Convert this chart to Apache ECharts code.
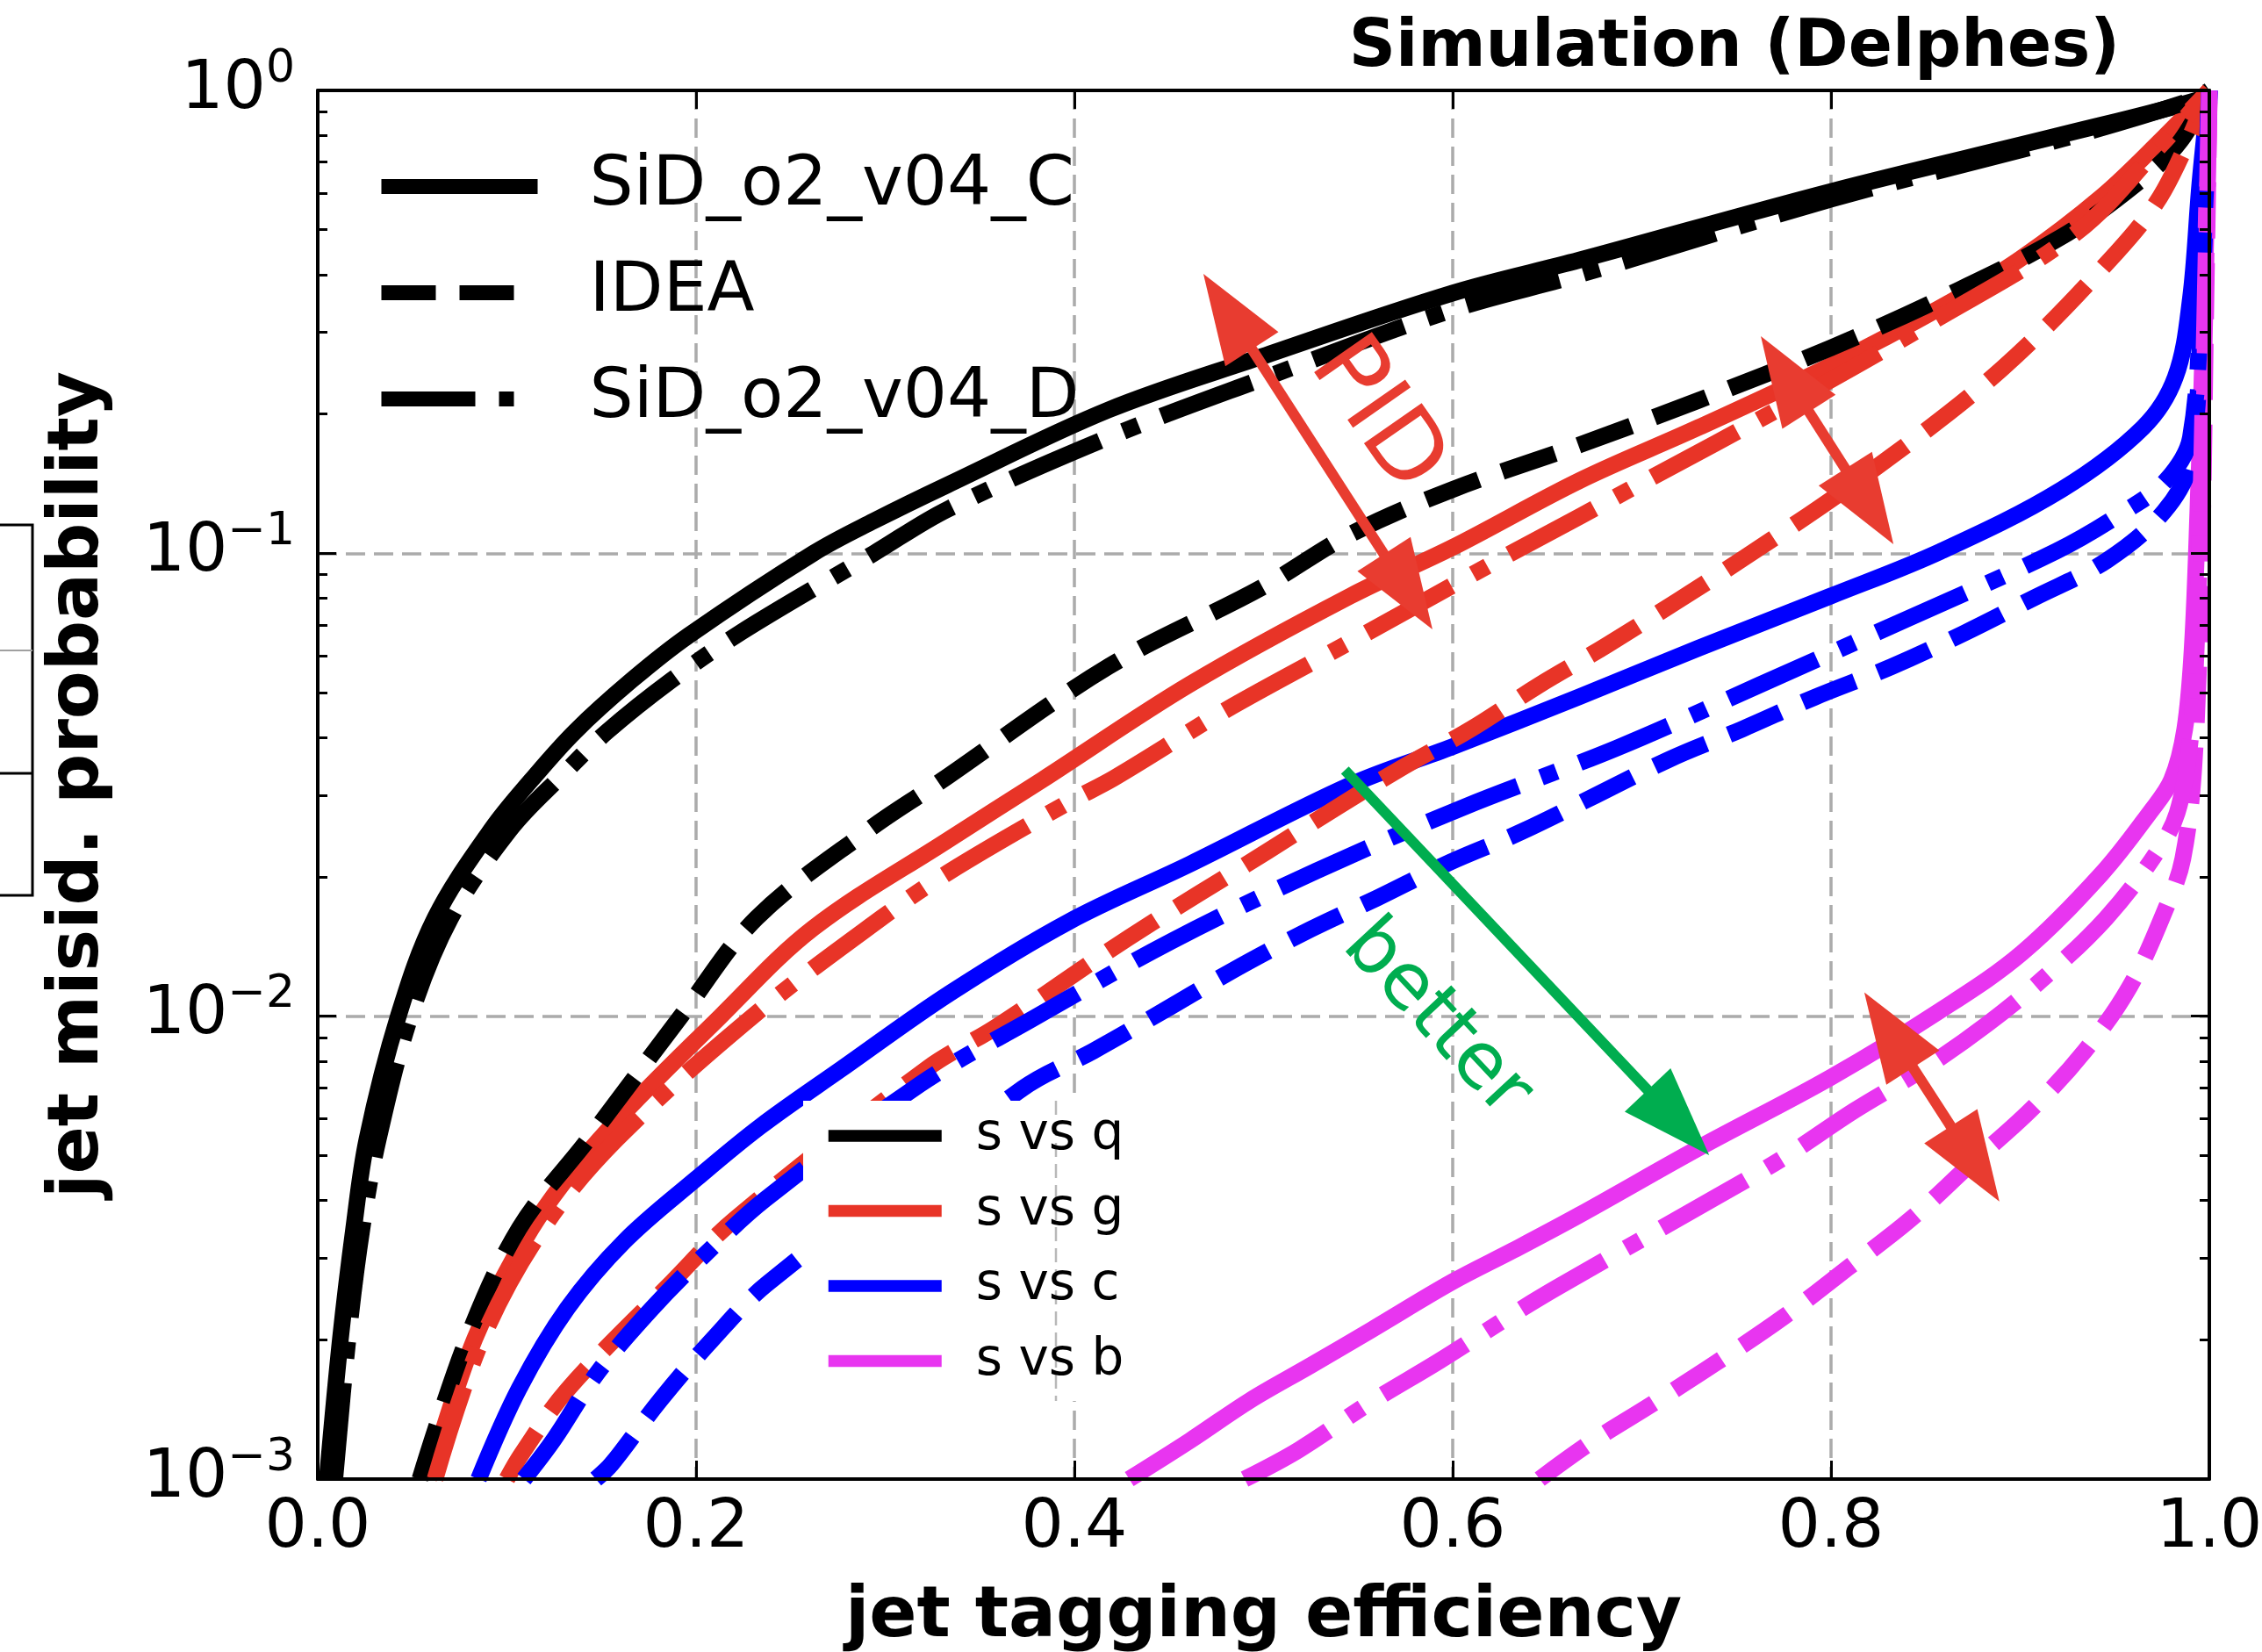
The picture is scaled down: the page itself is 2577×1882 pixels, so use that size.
<!DOCTYPE html>
<html>
<head>
<meta charset="utf-8">
<script src="https://cdn.jsdelivr.net/npm/echarts@6/dist/echarts.min.js"></script>
<style>html,body{margin:0;padding:0;background:#fff}#c{width:2577px;height:1882px}</style>
</head>
<body>
<div id="c"></div>
<script>
// ---------------- data (x = jet tagging efficiency, y = mis-id probability) ----------------
const xTicks = [0, 0.2, 0.4, 0.6, 0.8, 1.0];
const yTicks = [0.001, 0.01, 0.1, 1];

// SiD_o2_v04_C (solid)
const q_SiDC = [[0.005,0.001],[0.012,0.00201],[0.019,0.00348],[0.026,0.00542],[0.0426,0.01],[0.062,0.0163],[0.092,0.0254],[0.113,0.0324],[0.136,0.0412],[0.166,0.0532],[0.196,0.0664],[0.262,0.1],[0.294,0.1175],[0.333,0.1406],[0.418,0.204],[0.499,0.266],[0.6,0.365],[0.667,0.43],[0.8,0.605],[0.922,0.802],[0.995,0.957],[1.0,1.0]];
const g_SiDC = [[0.0586,0.001],[0.083,0.00201],[0.113,0.00348],[0.149,0.00542],[0.213,0.01],[0.262,0.0155],[0.333,0.024],[0.383,0.0324],[0.461,0.0521],[0.546,0.0809],[0.6,0.103],[0.667,0.1435],[0.73,0.187],[0.8,0.2547],[0.858,0.3396],[0.9,0.4325],[0.943,0.589],[0.975,0.785],[1.0,1.0]];
const c_SiDC = [[0.085,0.001],[0.1065,0.00157],[0.132,0.00234],[0.162,0.00326],[0.2,0.00445],[0.234,0.00578],[0.277,0.0077],[0.334,0.0112],[0.397,0.016],[0.461,0.0213],[0.546,0.0316],[0.6,0.0382],[0.667,0.049],[0.73,0.0624],[0.8,0.0809],[0.858,0.101],[0.922,0.1374],[0.965,0.187],[0.982,0.24],[0.99,0.355],[0.995,0.63],[1.0,1.0]];
const b_SiDC = [[0.429,0.001],[0.461,0.00121],[0.493,0.00148],[0.525,0.00176],[0.557,0.0021],[0.6,0.00267],[0.632,0.00312],[0.667,0.00372],[0.73,0.00519],[0.8,0.00738],[0.858,0.0103],[0.901,0.0137],[0.943,0.0203],[0.969,0.0277],[0.98,0.0324],[0.987,0.0417],[0.991,0.063],[0.994,0.126],[0.997,0.316],[1.0,1.0]];

// IDEA (dashed)
const q_IDEA = [[0.054,0.001],[0.079,0.00201],[0.1065,0.00348],[0.143,0.00542],[0.192,0.01],[0.232,0.0163],[0.292,0.0254],[0.326,0.0315],[0.418,0.0569],[0.499,0.0843],[0.546,0.11],[0.6,0.1374],[0.667,0.1714],[0.73,0.214],[0.8,0.278],[0.858,0.355],[0.922,0.483],[0.965,0.646],[0.985,0.78],[1.0,1.0]];
const g_IDEA = [[0.1,0.001],[0.1076,0.00113],[0.132,0.00156],[0.1875,0.00267],[0.2205,0.00364],[0.322,0.0077],[0.359,0.0095],[0.429,0.0148],[0.502,0.0227],[0.539,0.0283],[0.572,0.0342],[0.61,0.0418],[0.646,0.052],[0.682,0.0635],[0.754,0.0977],[0.824,0.1535],[0.891,0.2518],[0.951,0.4467],[0.976,0.608],[1.0,1.0]];
const c_IDEA = [[0.147,0.001],[0.1555,0.00108],[0.181,0.00148],[0.209,0.00201],[0.2375,0.00264],[0.3726,0.00698],[0.41,0.00841],[0.447,0.01026],[0.4834,0.01253],[0.5207,0.0151],[0.56,0.018],[0.5985,0.0215],[0.637,0.0251],[0.714,0.0358],[0.753,0.0417],[0.791,0.0488],[0.832,0.0569],[0.87,0.0671],[0.907,0.08],[0.946,0.0966],[0.976,0.123],[0.99,0.158],[0.996,0.35],[1.0,1.0]];
const b_IDEA = [[0.646,0.001],[0.673,0.0012],[0.704,0.00144],[0.739,0.00178],[0.775,0.00224],[0.809,0.00286],[0.842,0.00364],[0.874,0.0048],[0.906,0.0063],[0.934,0.0084],[0.958,0.0116],[0.977,0.0171],[0.986,0.0219],[0.992,0.0355],[0.996,0.1],[0.998,0.316],[1.0,1.0]];

// SiD_o2_v04_D (dash-dot)
const q_SiDD = [[0.009,0.001],[0.016,0.00201],[0.0234,0.00348],[0.032,0.00542],[0.049,0.01],[0.0703,0.0163],[0.102,0.0254],[0.129,0.0331],[0.153,0.0412],[0.187,0.0532],[0.224,0.0676],[0.294,0.1],[0.333,0.1245],[0.418,0.178],[0.499,0.238],[0.6,0.336],[0.667,0.4],[0.8,0.582],[0.922,0.785],[0.99,0.95],[1.0,1.0]];
const g_SiDD = [[0.062,0.001],[0.087,0.00201],[0.119,0.00348],[0.158,0.00542],[0.23,0.01],[0.298,0.0163],[0.333,0.0204],[0.397,0.029],[0.421,0.0327],[0.479,0.0456],[0.554,0.0671],[0.628,0.0986],[0.667,0.12],[0.702,0.1435],[0.776,0.209],[0.852,0.314],[0.93,0.494],[0.975,0.767],[1.0,1.0]];
const c_SiDD = [[0.109,0.001],[0.125,0.00122],[0.148,0.0017],[0.176,0.00232],[0.2045,0.00305],[0.2365,0.00402],[0.3185,0.00713],[0.377,0.00982],[0.451,0.0145],[0.528,0.0206],[0.606,0.0283],[0.687,0.038],[0.762,0.0519],[0.841,0.0724],[0.919,0.101],[0.955,0.123],[0.977,0.1435],[0.99,0.178],[0.996,0.4],[1.0,1.0]];
const b_SiDD = [[0.49,0.001],[0.5186,0.001156],[0.556,0.00146],[0.593,0.0018],[0.628,0.00222],[0.655,0.00259],[0.739,0.00406],[0.775,0.00495],[0.8123,0.00625],[0.849,0.0077],[0.8827,0.00962],[0.914,0.01225],[0.9455,0.0163],[0.971,0.0222],[0.983,0.0275],[0.99,0.0398],[0.994,0.0794],[0.997,0.251],[1.0,1.0]];

const detectorNames = ['SiD_o2_v04_C', 'IDEA', 'SiD_o2_v04_D'];
const classNames = ['s vs q', 's vs g', 's vs c', 's vs b'];

// annotation anchors in data coordinates
const pidArrowBig = [[0.4682, 0.4016], [0.5893, 0.0685]];
const pidArrowMid = [[0.7629, 0.2944], [0.833, 0.1046]];
const pidArrowLow = [[0.8176, 0.01126], [0.889, 0.00398]];
const betterArrow = [[0.543, 0.034], [0.7356, 0.00501]];
const pidTextPos = [0.5592, 0.1979];
const betterTextPos = [0.5912, 0.00985];

// ---------------- styling ----------------
const FONT = '"DejaVu Sans", "Noto Sans", sans-serif';
const BLACK = '#000000', RED = '#E83427', BLUE = '#0000FF', MAGENTA = '#E835F0';
const ARROW_RED = '#E83C30', GREEN = '#00AD4F';
const LW = 19;
const DASHED = [64, 28];
const DASHDOT = [110, 28, 19, 28];
const LEG_DASHED = [62, 27];
const LEG_DASHDOT = [107, 27, 17, 27];

function mk(name, data, color, dash) {
  return {
    name: name, type: 'line', data: data, symbol: 'none', showSymbol: false,
    smooth: 0.35, silent: true, z: 2,
    lineStyle: { color: color, width: LW, type: dash, cap: 'butt', join: 'round' },
    itemStyle: { color: color }
  };
}
function legendDummy(name, color, width, dash) {
  return {
    name: name, type: 'line', data: [], symbol: 'none', showSymbol: false, silent: true,
    lineStyle: { color: color, width: width, type: dash }, itemStyle: { color: color }
  };
}

const series = [
  mk('q C', q_SiDC, BLACK, 'solid'), mk('g C', g_SiDC, RED, 'solid'),
  mk('c C', c_SiDC, BLUE, 'solid'), mk('b C', b_SiDC, MAGENTA, 'solid'),
  mk('q I', q_IDEA, BLACK, DASHED), mk('g I', g_IDEA, RED, DASHED),
  mk('c I', c_IDEA, BLUE, DASHED), mk('b I', b_IDEA, MAGENTA, DASHED),
  mk('q D', q_SiDD, BLACK, DASHDOT), mk('g D', g_SiDD, RED, DASHDOT),
  mk('c D', c_SiDD, BLUE, DASHDOT), mk('b D', b_SiDD, MAGENTA, DASHDOT),
  legendDummy(detectorNames[0], BLACK, 17, 'solid'),
  legendDummy(detectorNames[1], BLACK, 17, LEG_DASHED),
  legendDummy(detectorNames[2], BLACK, 17, LEG_DASHDOT),
  legendDummy(classNames[0], BLACK, 13.5, 'solid'),
  legendDummy(classNames[1], RED, 13.5, 'solid'),
  legendDummy(classNames[2], BLUE, 13.5, 'solid'),
  legendDummy(classNames[3], MAGENTA, 13.5, 'solid')
];

const tickStyle = { show: true, inside: true, length: 21, lineStyle: { color: '#000', width: 3 } };
const minorStyle = { show: true, splitNumber: 9, length: 11, lineStyle: { color: '#000', width: 3 } };
const frameLine = { show: true, onZero: false, lineStyle: { color: '#000', width: 4 } };
const gridLine = { show: true, lineStyle: { color: '#ababab', width: 3.5, type: [22, 10] } };

function supLabel(v) {
  const e = Math.round(Math.log10(v));
  const s = e < 0 ? '\u2212' + (-e) : String(e);
  return '{b|10}{s|' + s + '}';
}

const option = {
  animation: false,
  backgroundColor: '#ffffff',
  title: {
    text: 'Simulation (Delphes)', right: 162, top: 19, padding: 0,
    textStyle: { fontFamily: FONT, fontSize: 74, fontWeight: 'bold', color: '#000' }
  },
  grid: { left: 362, top: 103, width: 2155, height: 1582, containLabel: false, outerBoundsMode: 'none' },
  xAxis: [
    {
      type: 'value', position: 'bottom', min: 0, max: 1, interval: 0.2, z: 3,
      axisLine: frameLine, axisTick: tickStyle, splitLine: { show: false },
      axisLabel: { show: true, margin: 19, fontFamily: FONT, fontSize: 76, color: '#000',
        formatter: function (v) { return v.toFixed(1); } },
      name: 'jet tagging efficiency', nameLocation: 'middle', nameGap: 118,
      nameTextStyle: { fontFamily: FONT, fontSize: 80, fontWeight: 'bold', color: '#000' }
    },
    {
      type: 'value', position: 'top', min: 0, max: 1, interval: 0.2, z: 3,
      axisLine: frameLine, axisTick: tickStyle, splitLine: { show: false }, axisLabel: { show: false }
    },
    {
      type: 'value', position: 'bottom', min: 0, max: 1, interval: 0.2, z: 0,
      axisLine: { show: false }, axisTick: { show: false }, axisLabel: { show: false }, splitLine: gridLine
    }
  ],
  yAxis: [
    {
      type: 'log', logBase: 10, position: 'left', min: yTicks[0], max: yTicks[yTicks.length - 1], z: 3,
      axisLine: frameLine, axisTick: tickStyle, minorTick: minorStyle, splitLine: { show: false },
      axisLabel: {
        show: true, margin: 26, formatter: supLabel, color: '#000',
        rich: {
          b: { fontFamily: FONT, fontSize: 76, lineHeight: 100, color: '#000' },
          s: { fontFamily: FONT, fontSize: 52, lineHeight: 54, verticalAlign: 'top', color: '#000' }
        }
      },
      name: 'jet misid. probability', nameLocation: 'middle', nameGap: 232, nameRotate: 90,
      nameTextStyle: { fontFamily: FONT, fontSize: 80, fontWeight: 'bold', color: '#000' }
    },
    {
      type: 'log', logBase: 10, position: 'right', min: yTicks[0], max: yTicks[yTicks.length - 1], z: 3,
      axisLine: frameLine, axisTick: tickStyle, minorTick: minorStyle, splitLine: { show: false },
      axisLabel: { show: false }
    },
    {
      type: 'log', logBase: 10, position: 'left', min: yTicks[0], max: yTicks[yTicks.length - 1], z: 0,
      axisLine: { show: false }, axisTick: { show: false }, axisLabel: { show: false }, splitLine: gridLine
    }
  ],
  legend: [
    {
      data: detectorNames, orient: 'vertical', left: 426, top: 173, padding: 0,
      itemWidth: 178, itemHeight: 80, itemGap: 42, selectedMode: false, z: 6,
      lineStyle: { width: 17 }, itemStyle: { opacity: 0 },
      textStyle: { fontFamily: FONT, fontSize: 79, color: '#000', padding: [0, 0, 0, 54] }
    },
    {
      data: classNames, orient: 'vertical', left: 937, top: 1265, padding: 0,
      itemWidth: 129, itemHeight: 60, itemGap: 27.5, selectedMode: false, z: 6,
      lineStyle: { width: 13.5 }, itemStyle: { opacity: 0 },
      textStyle: { fontFamily: FONT, fontSize: 58, color: '#000', padding: [0, 0, 0, 34] }
    }
  ],
  series: series
};

const chart = echarts.init(document.getElementById('c'), null, { renderer: 'canvas', width: 2577, height: 1882 });
chart.setOption(option);

// ---------------- annotations (positioned through the axes) ----------------
function px(p) { return chart.convertToPixel({ xAxisIndex: 0, yAxisIndex: 0 }, p); }
function headPts(tip, u, L, W) {
  const bx = tip[0] - u[0] * L, by = tip[1] - u[1] * L;
  const nx = -u[1], ny = u[0];
  return [[tip[0], tip[1]], [bx + nx * W / 2, by + ny * W / 2], [bx - nx * W / 2, by - ny * W / 2]];
}
function arrow(a, b, color, doubleHead) {
  const L = 102, W = 72, SW = 12;
  const A = px(a), B = px(b);
  const dx = B[0] - A[0], dy = B[1] - A[1], d = Math.hypot(dx, dy);
  const u = [dx / d, dy / d];
  const s0 = doubleHead ? [A[0] + u[0] * L * 0.8, A[1] + u[1] * L * 0.8] : A;
  const s1 = [B[0] - u[0] * L * 0.8, B[1] - u[1] * L * 0.8];
  const els = [
    { type: 'line', silent: true, z: 10, shape: { x1: s0[0], y1: s0[1], x2: s1[0], y2: s1[1] },
      style: { stroke: color, lineWidth: SW } },
    { type: 'polygon', silent: true, z: 10, shape: { points: headPts(B, u, L, W) }, style: { fill: color } }
  ];
  if (doubleHead) {
    els.push({ type: 'polygon', silent: true, z: 10, shape: { points: headPts(A, [-u[0], -u[1]], L, W) }, style: { fill: color } });
  }
  return els;
}
function rotText(pos, txt, color, size, angleDeg) {
  const P = px(pos);
  return {
    type: 'text', silent: true, z: 10, x: P[0], y: P[1], rotation: -angleDeg * Math.PI / 180,
    style: { text: txt, x: 0, y: 0, fill: color, font: size + 'px "DejaVu Sans"',
      textAlign: 'center', textVerticalAlign: 'middle', align: 'center', verticalAlign: 'middle' }
  };
}

const elements = [
  // white frame of the colour legend (hides the curves behind it)
  { type: 'rect', silent: true, z: 3, shape: { x: 915, y: 1254, width: 385, height: 342 }, style: { fill: '#ffffff' } },
  { type: 'line', silent: true, z: 3, shape: { x1: 1203, y1: 1254, x2: 1203, y2: 1596 },
    style: { stroke: '#b8b8b8', lineWidth: 2.5, lineDash: [16, 8] } },
  // partial boxed element at the far left edge
  { type: 'rect', silent: true, z: 3, shape: { x: -4, y: 598, width: 41, height: 422 },
    style: { fill: '#ffffff', stroke: '#000', lineWidth: 3 } },
  { type: 'line', silent: true, z: 3, shape: { x1: 0, y1: 741, x2: 37, y2: 741 }, style: { stroke: '#a0a0a0', lineWidth: 2 } },
  { type: 'line', silent: true, z: 3, shape: { x1: 0, y1: 881, x2: 37, y2: 881 }, style: { stroke: '#000', lineWidth: 3 } }
]
  .concat(arrow(pidArrowBig[0], pidArrowBig[1], ARROW_RED, true))
  .concat(arrow(pidArrowMid[0], pidArrowMid[1], ARROW_RED, true))
  .concat(arrow(pidArrowLow[0], pidArrowLow[1], ARROW_RED, true))
  .concat(arrow(betterArrow[0], betterArrow[1], GREEN, false))
  .concat([
    rotText(pidTextPos, 'PID', ARROW_RED, 110, 55),
    rotText(betterTextPos, 'better', GREEN, 88, 47)
  ]);

chart.setOption({ graphic: { elements: elements } });
</script>
</body>
</html>
